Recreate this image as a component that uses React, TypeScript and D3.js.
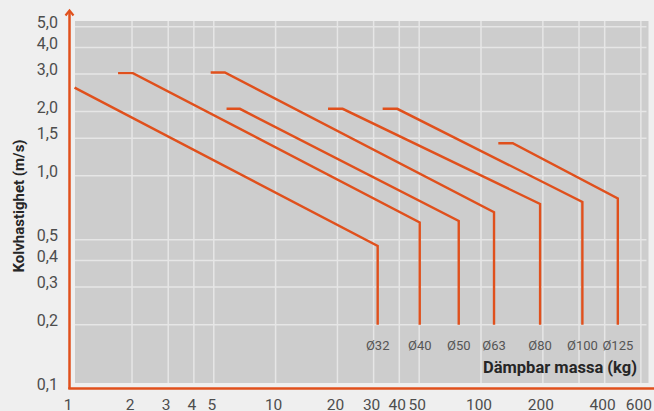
import React from "react";
import * as d3 from "d3";

// ---- data ----
const cylinders = ["Ø32", "Ø40", "Ø50", "Ø63", "Ø80", "Ø100", "Ø125"];
const massStart = [1.05, 1.71, 5.77, 4.83, 18.0, 33.2, 121.4];
const massKnee = [1.05, 2.02, 6.7, 5.66, 21.2, 39.1, 142.7];
const velocityMax = [2.59, 3.03, 2.06, 3.05, 2.06, 2.06, 1.42];
const massEnd = [31.4, 50.3, 77.9, 115.7, 193.9, 311.5, 463.4];
const velocityEnd = [0.468, 0.604, 0.613, 0.674, 0.737, 0.753, 0.782];
const velocityMin = 0.2;

const xTickValues = [1, 2, 3, 4, 5, 10, 20, 30, 40, 50, 100, 200, 400, 600];
const xTickLabels = ["1", "2", "3", "4", "5", "10", "20", "30", "40", "50", "100", "200", "400", "600"];
const xGridValues = [2, 3, 4, 5, 10, 20, 30, 40, 50, 100, 200, 300, 400, 600];
const yTickValues = [0.1, 0.2, 0.3, 0.4, 0.5, 1.0, 1.5, 2.0, 3.0, 4.0, 5.0];
const yTickLabels = ["0,1", "0,2", "0,3", "0,4", "0,5", "1,0", "1,5", "2,0", "3,0", "4,0", "5,0"];
const yGridValues = [0.2, 0.3, 0.4, 0.5, 1.0, 1.5, 2.0, 3.0, 4.0, 5.0];

const xTitle = "Dämpbar massa (kg)";
const yTitle = "Kolvhastighet (m/s)";

const W = 654;
const H = 411;
const ORANGE = "#e0501c";
const FONT = "Roboto, 'DejaVu Sans', sans-serif";

export default function App() {
  const x = d3.scaleLog().domain([1, 650]).range([70.2, 648]);
  const y = d3.scaleLog().domain([0.1, 5.32]).range([388.8, 21]);

  const plotLeft = 75;
  const plotRight = 648.5;
  const plotTop = 21;
  const plotBottom = 383;

  const line = d3
    .line<[number, number]>()
    .x((d) => x(d[0]))
    .y((d) => y(d[1]));

  const series = cylinders.map((name, i) => {
    const pts: [number, number][] = [];
    pts.push([massStart[i], velocityMax[i]]);
    if (massKnee[i] !== massStart[i]) pts.push([massKnee[i], velocityMax[i]]);
    pts.push([massEnd[i], velocityEnd[i]]);
    pts.push([massEnd[i], velocityMin]);
    return { name, pts, labelX: massEnd[i] };
  });

  return (
    <svg
      width={W}
      height={H}
      style={{ position: "absolute", left: 0, top: 0, background: "#efefef" }}
      fontFamily={FONT}
    >
      <rect x={0} y={0} width={W} height={H} fill="#efefef" />
      <rect
        x={plotLeft}
        y={plotTop}
        width={plotRight - plotLeft}
        height={plotBottom - plotTop}
        fill="#cdcdcd"
      />
      {/* grid */}
      {xGridValues.map((v) => (
        <line
          key={"gx" + v}
          x1={x(v)}
          x2={x(v)}
          y1={plotTop}
          y2={plotBottom}
          stroke="#e6e6e6"
          strokeWidth={1.5}
        />
      ))}
      {yGridValues.map((v) => (
        <line
          key={"gy" + v}
          x1={plotLeft}
          x2={plotRight - 2}
          y1={y(v)}
          y2={y(v)}
          stroke="#e6e6e6"
          strokeWidth={1.5}
        />
      ))}

      {/* series */}
      {series.map((s) => (
        <path
          key={s.name}
          d={line(s.pts) || ""}
          fill="none"
          stroke={ORANGE}
          strokeWidth={2.4}
          strokeLinejoin="miter"
        />
      ))}
      {series.map((s) => (
        <text
          key={"l" + s.name}
          x={x(s.labelX)}
          y={350}
          textAnchor="middle"
          fontSize={13}
          fill="#555"
        >
          {s.name}
        </text>
      ))}

      {/* axes */}
      <line x1={69.5} x2={69.5} y1={389} y2={11} stroke={ORANGE} strokeWidth={2.5} />
      <path
        d="M65.5,15.5 L69.5,10.5 L73.5,15.5"
        fill="none"
        stroke={ORANGE}
        strokeWidth={2.2}
      />
      <line x1={68.3} x2={W} y1={388.5} y2={388.5} stroke={ORANGE} strokeWidth={2.5} />

      {/* tick labels */}
      {yTickValues.map((v, i) => (
        <text
          key={"yt" + v}
          x={58}
          y={y(v) - 3}
          textAnchor="end"
          dominantBaseline="middle"
          fontSize={16}
          fill="#4d4d4d"
        >
          {yTickLabels[i]}
        </text>
      ))}
      {xTickValues.map((v, i) => (
        <text
          key={"xt" + v}
          x={x(v) - 2}
          y={409.5}
          textAnchor="middle"
          fontSize={15.5}
          fill="#4d4d4d"
        >
          {xTickLabels[i]}
        </text>
      ))}

      {/* titles */}
      <text
        x={637}
        y={373}
        textAnchor="end"
        fontSize={16.5}
        fontWeight="bold"
        fill="#262626"
      >
        {xTitle}
      </text>
      <text
        transform="translate(24,206) rotate(-90)"
        textAnchor="middle"
        fontSize={15}
        fontWeight="bold"
        fill="#262626"
      >
        {yTitle}
      </text>
    </svg>
  );
}
